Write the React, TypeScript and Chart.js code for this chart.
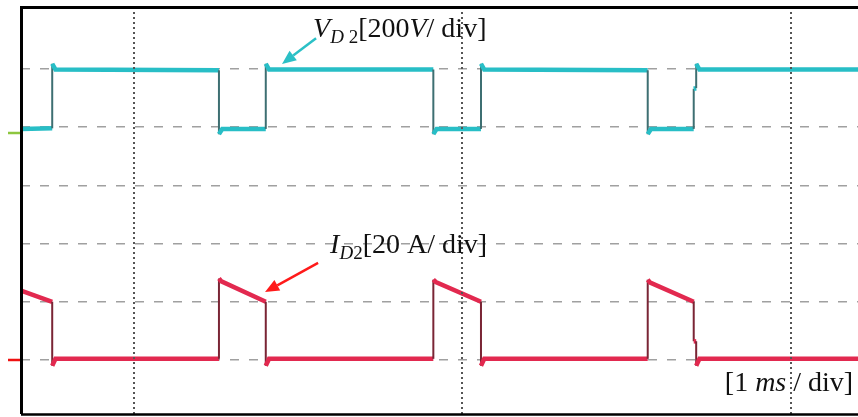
import React, { useEffect, useRef } from "react";
import { Chart, registerables } from "chart.js";
Chart.register(...registerables);

// ---- axes (time in ms, vertical in scope divisions) ----
const timeMin = 0;
const timeMax = 10.19;
const timeGridMs = [1.376, 5.37, 9.376];
const divMin = -0.928;
const divMax = 6.065;
const divGrid = [0, 1, 2, 3, 4, 5];

// ---- V_D2 trace (divisions) ----
const vdTimeMs = [0, 0.38, 0.38, 0.42, 2.41, 2.41, 2.45, 2.98, 2.98, 3.02, 5.02, 5.02, 5.06, 5.6, 5.6, 5.64, 7.63, 7.63, 7.67, 8.19, 8.19, 8.22, 8.22, 8.26, 10.19];
const vdDiv = [3.97, 3.98, 5.09, 4.99, 4.98, 3.88, 3.97, 3.97, 5.09, 4.99, 4.99, 3.88, 3.97, 3.97, 5.09, 4.99, 4.98, 3.88, 3.97, 3.97, 4.66, 4.67, 5.09, 4.99, 4.99];

// ---- I_D2 trace (divisions) ----
const idTimeMs = [0, 0.38, 0.38, 0.42, 2.41, 2.41, 2.44, 2.98, 2.98, 3.02, 5.02, 5.02, 5.05, 5.6, 5.6, 5.64, 7.63, 7.63, 7.66, 8.19, 8.19, 8.22, 8.22, 8.26, 10.19];
const idDiv = [1.19, 1.0, -0.1, 0.02, 0.02, 1.4, 1.35, 1.0, -0.1, 0.02, 0.02, 1.38, 1.34, 1.0, -0.1, 0.02, 0.02, 1.38, 1.33, 1.0, 0.32, 0.32, -0.1, 0.02, 0.02];

// channel reference markers (divisions)
const channelRefDiv = [3.9, 0];
const channelRefColors = ["#8DC63F", "#EE1111"];

// ---- labels ----
type Part = { t: string; it?: boolean; sub?: boolean };
const vLabel: Part[] = [
  { t: "V", it: true },
  { t: "D", it: true, sub: true },
  { t: " 2", sub: true },
  { t: "[200" },
  { t: "V", it: true },
  { t: "/ div]" },
];
const iLabel: Part[] = [
  { t: "I", it: true },
  { t: "D", it: true, sub: true },
  { t: "2", sub: true },
  { t: "[20 A/ div]" },
];
const tLabel: Part[] = [{ t: "[1 " }, { t: "ms", it: true }, { t: " / div]" }];

const FONT = '"Liberation Serif", "DejaVu Serif", serif';
const SIZE = 28;
const SUB = 19;

function partFont(p: Part) {
  return `${p.it ? "italic " : ""}${p.sub ? SUB : SIZE}px ${FONT}`;
}
function richWidth(ctx: CanvasRenderingContext2D, parts: Part[]) {
  let w = 0;
  for (const p of parts) {
    ctx.font = partFont(p);
    w += ctx.measureText(p.t).width;
  }
  return w;
}
function drawRich(ctx: CanvasRenderingContext2D, parts: Part[], x: number, base: number, align: "left" | "right") {
  let cx = align === "right" ? x - richWidth(ctx, parts) : x;
  ctx.textAlign = "left";
  ctx.textBaseline = "alphabetic";
  ctx.fillStyle = "#111";
  for (const p of parts) {
    ctx.font = partFont(p);
    ctx.fillText(p.t, cx, base + (p.sub ? 6 : 0));
    cx += ctx.measureText(p.t).width;
  }
}
function arrow(ctx: CanvasRenderingContext2D, x0: number, y0: number, x1: number, y1: number, color: string) {
  const ang = Math.atan2(y1 - y0, x1 - x0);
  const hl = 14, hw = 6;
  const bx = x1 - hl * Math.cos(ang), by = y1 - hl * Math.sin(ang);
  ctx.strokeStyle = color;
  ctx.fillStyle = color;
  ctx.lineWidth = 2.5;
  ctx.beginPath();
  ctx.moveTo(x0, y0);
  ctx.lineTo(bx, by);
  ctx.stroke();
  ctx.beginPath();
  ctx.moveTo(x1, y1);
  ctx.lineTo(bx - hw * Math.sin(ang), by + hw * Math.cos(ang));
  ctx.lineTo(bx + hw * Math.sin(ang), by - hw * Math.cos(ang));
  ctx.closePath();
  ctx.fill();
}

const overlay = {
  id: "scopeOverlay",
  afterDraw(chart: any) {
    const { ctx, chartArea: a, scales } = chart;
    const x = scales.x, y = scales.y;
    ctx.save();
    // channel markers
    channelRefDiv.forEach((v, i) => {
      const py = y.getPixelForValue(v);
      ctx.strokeStyle = channelRefColors[i];
      ctx.lineWidth = 2.5;
      ctx.beginPath();
      ctx.moveTo(a.left - 13, py);
      ctx.lineTo(a.left - 1, py);
      ctx.stroke();
    });
    // frame
    ctx.strokeStyle = "#000";
    ctx.lineWidth = 3;
    ctx.beginPath();
    ctx.moveTo(a.left + 0.5, a.bottom);
    ctx.lineTo(a.left + 0.5, a.top + 0.5);
    ctx.lineTo(a.right, a.top + 0.5);
    ctx.stroke();
    ctx.lineWidth = 2.5;
    ctx.beginPath();
    ctx.moveTo(a.left, a.bottom + 0.5);
    ctx.lineTo(a.right, a.bottom + 0.5);
    ctx.stroke();
    // labels
    const X = (t: number) => x.getPixelForValue(t);
    const Y = (d: number) => y.getPixelForValue(d);
    drawRich(ctx, vLabel, X(3.556), Y(5.55), "left");
    arrow(ctx, X(3.592), Y(5.53), X(3.178), Y(5.086), "#2BC0C6");
    drawRich(ctx, iLabel, X(3.763), Y(1.84), "left");
    arrow(ctx, X(3.617), Y(1.667), X(2.971), Y(1.168), "#FF1A1A");
    drawRich(ctx, tLabel, X(10.131), Y(-0.53), "right");
    ctx.restore();
  },
};

export default function App() {
  const ref = useRef<HTMLCanvasElement>(null);
  useEffect(() => {
    document.body.style.margin = "0";
    const vData = vdTimeMs.map((t, i) => ({ x: t, y: vdDiv[i] }));
    const iData = idTimeMs.map((t, i) => ({ x: t, y: idDiv[i] }));
    const chart = new Chart(ref.current!, {
      type: "line",
      data: {
        datasets: [
          {
            label: "V_D2",
            data: vData,
            borderColor: "#28BEC6",
            borderWidth: 4.5,
            pointRadius: 0,
            tension: 0,
            segment: {
              borderColor: (c: any) => (c.p0.parsed.x === c.p1.parsed.x ? "#3E6F72" : undefined),
              borderWidth: (c: any) => (c.p0.parsed.x === c.p1.parsed.x ? 2 : undefined),
            },
          },
          {
            label: "I_D2",
            data: iData,
            borderColor: "#E2294F",
            borderWidth: 4.5,
            pointRadius: 0,
            tension: 0,
            segment: {
              borderColor: (c: any) => (c.p0.parsed.x === c.p1.parsed.x ? "#7A2535" : undefined),
              borderWidth: (c: any) => (c.p0.parsed.x === c.p1.parsed.x ? 2 : undefined),
            },
          },
        ],
      },
      options: {
        responsive: false,
        animation: false,
        layout: { padding: { left: 21, top: 7, right: 0, bottom: 3 } },
        plugins: { legend: { display: false }, tooltip: { enabled: false } },
        scales: {
          x: {
            type: "linear",
            min: timeMin,
            max: timeMax,
            afterBuildTicks: (s: any) => {
              s.ticks = timeGridMs.map((v) => ({ value: v }));
            },
            ticks: { display: false },
            grid: { color: "#555555", lineWidth: 2, drawTicks: false, z: 1 },
            border: { display: false, dash: [2, 3] },
          },
          y: {
            type: "linear",
            min: divMin,
            max: divMax,
            afterBuildTicks: (s: any) => {
              s.ticks = divGrid.map((v) => ({ value: v }));
            },
            ticks: { display: false },
            grid: { color: "#a0a0a0", lineWidth: 1.4, drawTicks: false },
            border: { display: false, dash: [9, 10] },
          },
        },
      },
      plugins: [overlay],
    });
    return () => chart.destroy();
  }, []);
  return <canvas ref={ref} width={858} height={417} style={{ display: "block" }} />;
}
